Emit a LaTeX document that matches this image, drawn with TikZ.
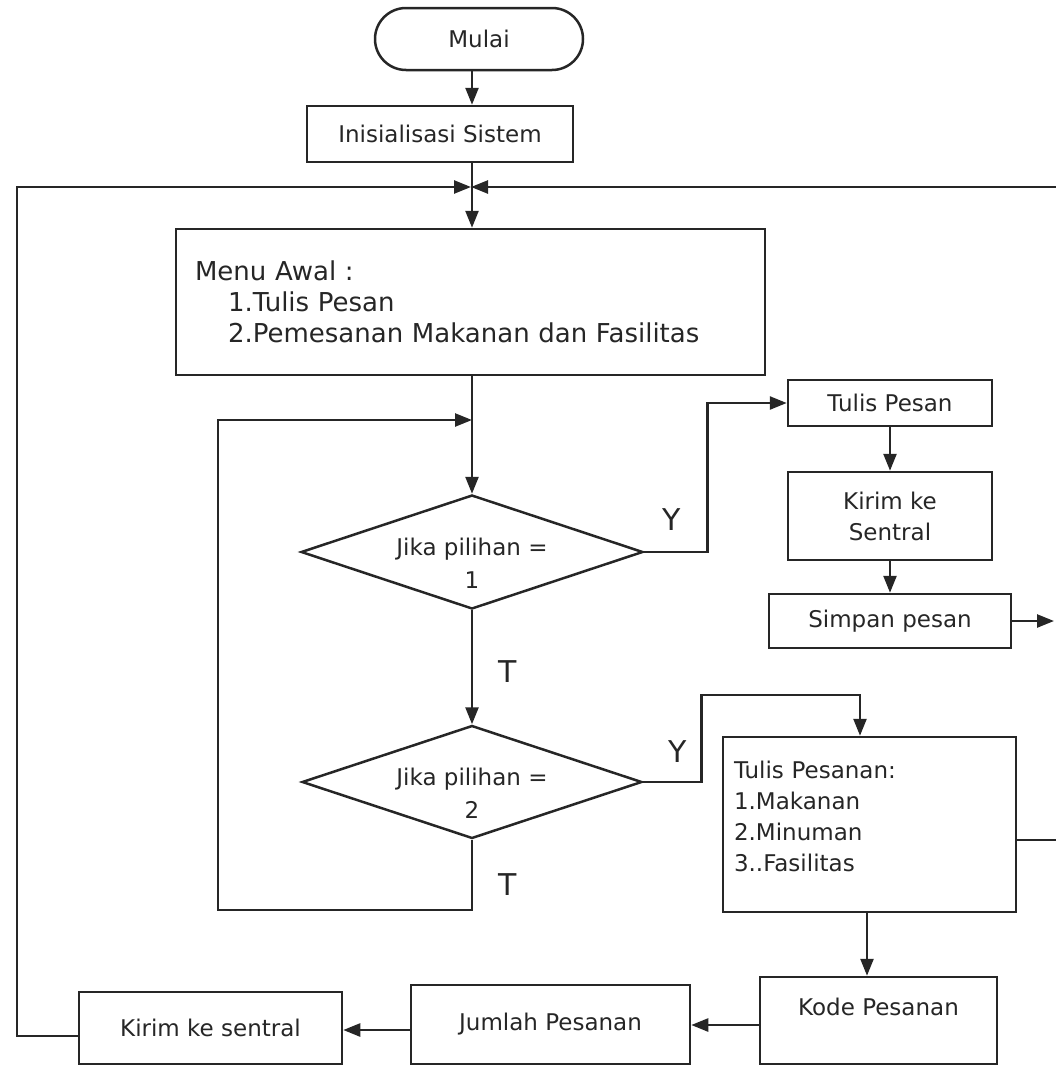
\documentclass[tikz,border=0pt]{standalone}
\usepackage{fontspec}
\setmainfont{DejaVu Sans}
\usetikzlibrary{shapes.geometric,arrows.meta}
\begin{document}
\begin{tikzpicture}[x=1pt,y=-1pt,
  line width=2.5pt, color=black!85,
  every node/.style={font=\fontsize{23}{31}\selectfont},
  box/.style={draw, rectangle, inner sep=0pt},
  decide/.style={draw, diamond, inner sep=0pt, aspect=3},
  choice/.style={anchor=center, yshift=-11pt, align=center, font=\fontsize{23}{33}\selectfont},
  yt/.style={font=\fontsize{30}{30}\selectfont},
  flow/.style={-{Triangle[length=17pt,width=13pt]}},
]
\useasboundingbox (0,0) rectangle (1056,1068);

% main column
\coordinate (spine) at (472,0);
\node[box, rounded corners=31pt, minimum width=208pt, minimum height=62pt] (mulai) at (479,39) {Mulai};
\node[box, minimum width=266pt, minimum height=56pt] (init) at (440,134) {Inisialisasi Sistem};
\node[box, minimum width=589pt, minimum height=146pt, text width=551pt, align=left,
  font=\fontsize{26}{31}\selectfont] (menu) at (470.5,302)
  {Menu Awal :\\\hspace*{33pt}1.Tulis Pesan\\\hspace*{33pt}2.Pemesanan Makanan dan Fasilitas};
\node[decide, minimum width=342pt, minimum height=114pt,
  label={[choice]center:Jika pilihan =\\1}] (d1) at (472,552) {};
\node[decide, minimum width=340pt, minimum height=113pt,
  label={[choice]center:Jika pilihan =\\2}] (d2) at (472,782) {};

% message branch
\node[box, minimum width=204pt, minimum height=46pt] (tp) at (890,403) {Tulis Pesan};
\node[box, minimum width=204pt, minimum height=88pt, align=center] (ks) at (890,516) {Kirim ke\\Sentral};
\node[box, minimum width=242pt, minimum height=54pt] (sp) at (890,621) {Simpan pesan};

% order branch
\node[box, minimum width=293pt, minimum height=175pt, text width=271pt, align=left] (tpn) at (869.5,824.5)
  {Tulis Pesanan:\\1.Makanan\\2.Minuman\\3..Fasilitas\\[-14pt]\mbox{}};
\node[box, minimum width=237pt, minimum height=87pt,
  label={[anchor=center, yshift=13.5pt]center:Kode Pesanan}] (kode) at (878.5,1020.5) {};
\node[box, minimum width=279pt, minimum height=79pt] (jml) at (550.5,1024.5) {Jumlah Pesanan};
\node[box, minimum width=263pt, minimum height=72pt] (kirim) at (210.5,1028) {Kirim ke sentral};

% branch labels
\node[yt] (y1) at (672,520) {Y};
\node[yt] (t1) at (508,672) {T};
\node[yt] (y2) at (678,752) {Y};
\node[yt] (t2) at (508,885) {T};

% free ends and junctions
\coordinate (join) at (472,187);
\coordinate (rin) at (1056,187);
\coordinate (loopin) at (472,420);
\coordinate (spout) at (1054,621);
\coordinate (tpnout) at (1056,840);
\coordinate (xk) at (867,0);

% connectors
\draw[flow] (mulai.south -| spine) -- (init.north -| spine);
\draw[flow] (init.south -| spine) -- (menu.north -| spine);
\draw[flow, shorten >=1pt] ([yshift=-8pt]kirim.west) -- (17,1036) |- (join);
\draw[flow, shorten >=-1pt] (rin) -- (join);
\draw[flow] (menu.south -| spine) -- (d1.north);
\draw[flow] (d2.south) -- ++(0,70) -| (218,420) -- (loopin);
\draw[flow] (d1.south) -- (d2.north);
\draw[flow] (d1.east) -- ++(63,0) |- (tp.west);
\draw[flow] (tp.south) -- (ks.north);
\draw[flow] (ks.south) -- (sp.north);
\draw[flow] (sp.east) -- (spout);
\draw[flow] (d2.east) -- ++(58,0) -- ++(0,-87) -| ([xshift=-9.5pt]tpn.north);
\draw ([yshift=-15.5pt]tpn.east) -- (tpnout);
\draw[flow] (tpn.south -| xk) -- (kode.north -| xk);
\draw[flow] (kode.west |- 0,1025) -- (jml.east |- 0,1025);
\draw[flow] (jml.west |- 0,1030) -- (kirim.east |- 0,1030);
\end{tikzpicture}
\end{document}
